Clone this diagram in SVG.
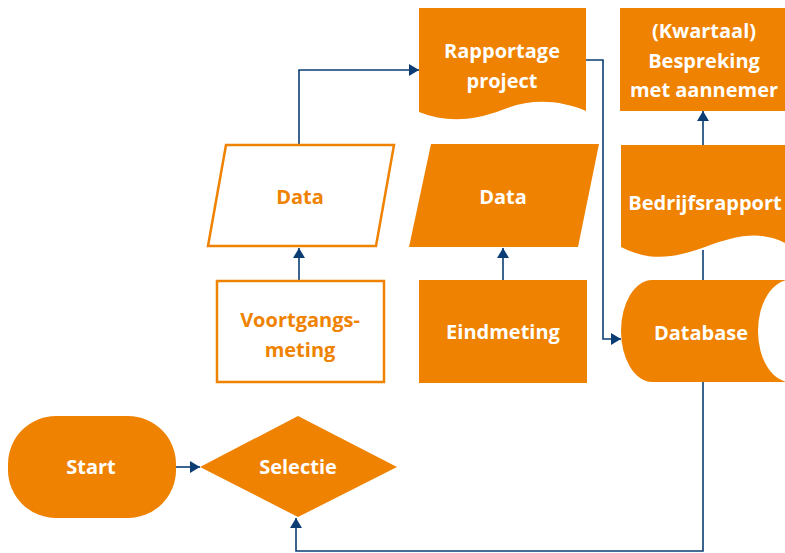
<svg xmlns="http://www.w3.org/2000/svg" width="785" height="553" viewBox="0 0 785 553">
<defs>
<style>
.f{fill:#EF8200}
.o{fill:#fff;stroke:#EF8200;stroke-width:2.5}
.t{font-family:"Open Sans","Noto Sans",sans-serif;font-weight:bold;font-size:20px;text-anchor:middle;fill:#fff}
.to{fill:#EF8200}
.c{fill:none;stroke:#0B3D74;stroke-width:1.6}
</style>
<marker id="a" viewBox="0 0 10 12" refX="10" refY="6" markerWidth="10" markerHeight="12" markerUnits="userSpaceOnUse" orient="auto">
<path d="M0,0 L10,6 L0,12 Z" fill="#0B3D74"/>
</marker>
</defs>
<rect width="785" height="553" fill="#fff"/>
<g id="connectors">
<path class="c" d="M176,467 H200" marker-end="url(#a)"/>
<path class="c" d="M299,280 V248" marker-end="url(#a)"/>
<path class="c" d="M503,280 V248" marker-end="url(#a)"/>
<path class="c" d="M299,144 V70 H419" marker-end="url(#a)"/>
<path class="c" d="M586,60 H603 V339 H621" marker-end="url(#a)"/>
<path class="c" d="M703,280 V250"/>
<path class="c" d="M703,150 V111" marker-end="url(#a)"/>
<path class="c" d="M703,382 V551 H296 V518" marker-end="url(#a)"/>
</g>
<g id="start">
<rect class="f" x="8" y="416" width="168" height="102" rx="48" ry="48"/>
<text class="t" x="91" y="474">Start</text>
</g>
<g id="selectie">
<path class="f" d="M200,467 L298,416 L397,467 L298,517 Z"/>
<text class="t" x="298" y="474">Selectie</text>
</g>
<g id="voortgangsmeting">
<rect class="o" x="217" y="281" width="167" height="101"/>
<text class="t to" x="300" y="327">Voortgangs-</text>
<text class="t to" x="300" y="357">meting</text>
</g>
<g id="data1">
<path class="o" d="M226,145 L394,145 L376,246 L208,246 Z"/>
<text class="t to" x="300" y="204">Data</text>
</g>
<g id="eindmeting">
<rect class="f" x="419" y="280" width="168" height="103"/>
<text class="t" x="503" y="339">Eindmeting</text>
</g>
<g id="data2">
<path class="f" d="M431,144 L599,144 L578,247 L409,247 Z"/>
<text class="t" x="503" y="204">Data</text>
</g>
<g id="rapportage">
<path class="f" d="M419,8 H586 V111 C560,100 530,98 502,110 C470,122 445,122 419,112 Z"/>
<text class="t" x="502" y="58">Rapportage</text>
<text class="t" x="502" y="88">project</text>
</g>
<g id="kwartaal">
<rect class="f" x="620" y="8" width="165" height="103"/>
<text class="t" x="704" y="38">(Kwartaal)</text>
<text class="t" x="704" y="68">Bespreking</text>
<text class="t" x="704" y="97">met aannemer</text>
</g>
<g id="bedrijfsrapport">
<path class="f" d="M621,145 H785 V243 C760,230 735,236 705,247 C675,258 650,262 621,247 Z"/>
<text class="t" x="705" y="210">Bedrijfsrapport</text>
</g>
<g id="database">
<path class="f" d="M652,280 H785 V382 H652 A31,51 0 0 1 652,280 Z"/>
<ellipse cx="790" cy="331" rx="32" ry="51" fill="#fff"/>
<text class="t" x="701" y="340">Database</text>
</g>
</svg>
